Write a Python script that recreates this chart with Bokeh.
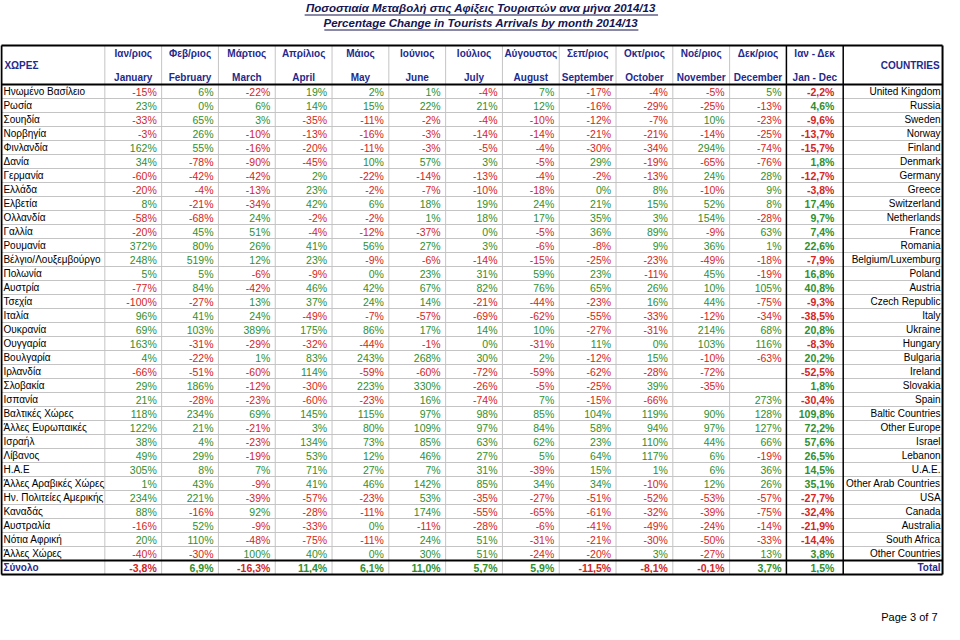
from bokeh.plotting import figure
from bokeh.models import Range1d, ColumnDataSource
from bokeh.embed import file_html
from bokeh.resources import INLINE
from bokeh.core.properties import value

title_gr = "Ποσοστιαία Μεταβολή στις Αφίξεις Τουριστών ανα μήνα 2014/13"
title_en = "Percentage Change in Tourists Arrivals by month 2014/13"
head_gr = "ΧΩΡΕΣ"
head_en = "COUNTRIES"
months_gr = ["Ιαν/ριος", "Φεβ/ριος", "Μάρτιος", "Απρίλιος", "Μάιος", "Ιούνιος", "Ιούλιος",
             "Αύγουστος", "Σεπ/ριος", "Οκτ/ριος", "Νοέ/ριος", "Δεκ/ριος", "Ιαν - Δεκ"]
months_en = ["January", "February", "March", "April", "May", "June", "July", "August",
             "September", "October", "November", "December", "Jan - Dec"]
countries_gr = ["Ηνωμένο Βασίλειο", "Ρωσία", "Σουηδία", "Νορβηγία", "Φινλανδία", "Δανία", "Γερμανία",
                "Ελλάδα", "Ελβετία", "Ολλανδία", "Γαλλία", "Ρουμανία", "Βέλγιο/Λουξεμβούργο", "Πολωνία",
                "Αυστρία", "Τσεχία", "Ιταλία", "Ουκρανία", "Ουγγαρία", "Βουλγαρία", "Ιρλανδία", "Σλοβακία",
                "Ισπανία", "Βαλτικές Χώρες", "Άλλες Ευρωπαικές", "Ισραήλ", "Λίβανος", "Η.Α.Ε",
                "Άλλες Αραβικές Χώρες", "Ην. Πολιτείες Αμερικής", "Καναδάς", "Αυστραλία", "Νότια Αφρική",
                "Άλλες Χώρες"]
countries_en = ["United Kingdom", "Russia", "Sweden", "Norway", "Finland", "Denmark", "Germany", "Greece",
                "Switzerland", "Netherlands", "France", "Romania", "Belgium/Luxemburg", "Poland", "Austria",
                "Czech Republic", "Italy", "Ukraine", "Hungary", "Bulgaria", "Ireland", "Slovakia", "Spain",
                "Baltic Countries", "Other Europe", "Israel", "Lebanon", "U.A.E.", "Other Arab Countries",
                "USA", "Canada", "Australia", "South Africa", "Other Countries"]
total_gr = "Σύνολο"
total_en = "Total"

jan = [-15, 23, -33, -3, 162, 34, -60, -20, 8, -58, -20, 372, 248, 5, -77, -100, 96, 69, 163, 4, -66, 29, 21,
       118, 122, 38, 49, 305, 1, 234, 88, -16, 20, -40]
feb = [6, 0, 65, 26, 55, -78, -42, -4, -21, -68, 45, 80, 519, 5, 84, -27, 41, 103, -31, -22, -51, 186, -28,
       234, 21, 4, 29, 8, 43, 221, -16, 52, 110, -30]
mar = [-22, 6, 3, -10, -16, -90, -42, -13, -34, 24, 51, 26, 12, -6, -42, 13, 24, 389, -29, 1, -60, -12, -23,
       69, -21, -23, -19, 7, -9, -39, 92, -9, -48, 100]
apr = [19, 14, -35, -13, -20, -45, 2, 23, 42, -2, -4, 41, 23, -9, 46, 37, -49, 175, -32, 83, 114, -30, -60,
       145, 3, 134, 53, 71, 41, -57, -28, -33, -75, 40]
may = [2, 15, -11, -16, -11, 10, -22, -2, 6, -2, -12, 56, -9, 0, 42, 24, -7, 86, -44, 243, -59, 223, -23,
       115, 80, 73, 12, 27, 46, -23, -11, 0, -11, 0]
jun = [1, 22, -2, -3, -3, 57, -14, -7, 18, 1, -37, 27, -6, 23, 67, 14, -57, 17, -1, 268, -60, 330, 16,
       97, 109, 85, 46, 7, 142, 53, 174, -11, 24, 30]
jul = [-4, 21, -4, -14, -5, 3, -13, -10, 19, 18, 0, 3, -14, 31, 82, -21, -69, 14, 0, 30, -72, -26, -74,
       98, 97, 63, 27, 31, 85, -35, -55, -28, 51, 51]
aug = [7, 12, -10, -14, -4, -5, -4, -18, 24, 17, -5, -6, -15, 59, 76, -44, -62, 10, -31, 2, -59, -5, 7,
       85, 84, 62, 5, -39, 34, -27, -65, -6, -31, -24]
sep = [-17, -16, -12, -21, -30, 29, -2, 0, 21, 35, 36, -8, -25, 23, 65, -23, -55, -27, 11, -12, -62, -25, -15,
       104, 58, 23, 64, 15, 34, -51, -61, -41, -21, -20]
oct_ = [-4, -29, -7, -21, -34, -19, -13, 8, 15, 3, 89, 9, -23, -11, 26, 16, -33, -31, 0, 15, -28, 39, -66,
        119, 94, 110, 117, 1, -10, -52, -32, -49, -30, 3]
nov = [-5, -25, 10, -14, 294, -65, 24, -10, 52, 154, -9, 36, -49, 45, 10, 44, -12, 214, 103, -10, -72, -35, None,
       90, 97, 44, 6, 6, 12, -53, -39, -24, -50, -27]
dec = [5, -13, -23, -25, -74, -76, 28, 9, 8, -28, 63, 1, -18, -19, 105, -75, -34, 68, 116, -63, None, None, 273,
       128, 127, 66, -19, 36, 26, -57, -75, -14, -33, 13]
year = [-2.2, 4.6, -9.6, -13.7, -15.7, 1.8, -12.7, -3.8, 17.4, 9.7, 7.4, 22.6, -7.9, 16.8, 40.8, -9.3, -38.5,
        20.8, -8.3, 20.2, -52.5, 1.8, -30.4, 109.8, 72.2, 57.6, 26.5, 14.5, 35.1, -27.7, -32.4, -21.9, -14.4, 3.8]
total = [-3.8, 6.9, -16.3, 11.4, 6.1, 11.0, 5.7, 5.9, -11.5, -8.1, -0.1, 3.7, 1.5]
page_label = "Page  3 of 7"

monthly = [jan, feb, mar, apr, may, jun, jul, aug, sep, oct_, nov, dec]

# ---------------- layout constants (reference pixel space) ----------------
FONT = "Liberation Sans"
GREEN = "#2e8f2e"
RED = "#d42424"
BLUE = "#1f2a8c"
NAVY = "#141450"
GRID = "#c4c4c4"
LEFT, RIGHT = 1.0, 957.0
C0 = 106.0
CW = 57.7
TOP = 45.0
HB = 84.0
RH = 14.0
n = len(countries_gr)
TOT_TOP = HB + n * RH
BOT = TOT_TOP + RH
FS_NAME = "10px"
FS_VAL = "10.5px"
FS_HEAD = "10px"

def fmt_int(v):
    return "" if v is None else f"{v}%"

def fmt_dec(v):
    return "" if v is None else (f"{v:.1f}".replace(".", ",") + "%")

def col(v):
    return RED if (v is not None and v < 0) else GREEN

p = figure(width=944, height=624, output_backend="svg", toolbar_location=None,
           x_range=Range1d(0, 959), y_range=Range1d(624, 0),
           min_border=0, outline_line_color=None, background_fill_color="white")
p.axis.visible = False
p.grid.visible = False

# ---------------- grid lines ----------------
hy = [HB + i * RH for i in range(1, n)]
p.segment(x0=[LEFT] * len(hy), x1=[RIGHT] * len(hy), y0=hy, y1=hy, line_color=GRID, line_width=1)

vx_gray = [C0 + k * CW for k in range(0, 12)]
p.segment(x0=vx_gray, x1=vx_gray, y0=[TOP] * len(vx_gray), y1=[BOT] * len(vx_gray), line_color=GRID, line_width=1)
vx_black = [C0 + 12 * CW, C0 + 13 * CW]
p.segment(x0=vx_black, x1=vx_black, y0=[TOP] * 2, y1=[BOT] * 2, line_color="black", line_width=1.5)

p.segment(x0=[LEFT, LEFT], x1=[RIGHT, RIGHT], y0=[HB, TOT_TOP], y1=[HB, TOT_TOP], line_color="black", line_width=1.8)
p.segment(x0=[LEFT, LEFT, LEFT, RIGHT], x1=[RIGHT, RIGHT, LEFT, RIGHT],
          y0=[TOP, BOT, TOP, TOP], y1=[TOP, BOT, BOT, BOT], line_color="black", line_width=2)

# ---------------- titles ----------------
p.text(x=[488, 488], y=[7, 22], text=[title_gr, title_en], text_align="center", text_baseline="middle",
       text_font=value(FONT), text_font_size="11.5px", text_font_style="bold italic", text_color=NAVY)
p.segment(x0=[309, 329], x1=[668, 648], y0=[14.5, 29.5], y1=[14.5, 29.5], line_color=NAVY, line_width=1)

# ---------------- header ----------------
centers = [C0 + (k + 0.5) * CW for k in range(13)]
p.text(x=centers, y=[53] * 13, text=months_gr, text_align="center", text_baseline="middle",
       text_font=value(FONT), text_font_size=FS_HEAD, text_font_style="bold", text_color=BLUE)
p.text(x=centers, y=[77] * 13, text=months_en, text_align="center", text_baseline="middle",
       text_font=value(FONT), text_font_size=FS_HEAD, text_font_style="bold", text_color=BLUE)
p.text(x=[4], y=[65], text=[head_gr], text_align="left", text_baseline="middle",
       text_font=value(FONT), text_font_size=FS_HEAD, text_font_style="bold", text_color=BLUE)
p.text(x=[954], y=[65], text=[head_en], text_align="right", text_baseline="middle",
       text_font=value(FONT), text_font_size=FS_HEAD, text_font_style="bold", text_color=BLUE)

# ---------------- body ----------------
row_y = [HB + (i + 0.5) * RH for i in range(n)]
p.text(x=[3] * n, y=row_y, text=countries_gr, text_align="left", text_baseline="middle",
       text_font=value(FONT), text_font_size=FS_NAME, text_color="black")
p.text(x=[955] * n, y=row_y, text=countries_en, text_align="right", text_baseline="middle",
       text_font=value(FONT), text_font_size=FS_NAME, text_color="black")

xs, ys, ts, cs = [], [], [], []
for k, series in enumerate(monthly):
    xr = C0 + (k + 1) * CW - 5
    for i, v in enumerate(series):
        if v is None:
            continue
        xs.append(xr); ys.append(row_y[i]); ts.append(fmt_int(v)); cs.append(col(v))
src = ColumnDataSource(dict(x=xs, y=ys, t=ts, c=cs))
p.text(x="x", y="y", text="t", text_color="c", source=src, text_align="right", text_baseline="middle",
       text_font=value(FONT), text_font_size=FS_VAL)

xr13 = C0 + 13 * CW - 9
src_y = ColumnDataSource(dict(x=[xr13] * n, y=row_y, t=[fmt_dec(v) for v in year], c=[col(v) for v in year]))
p.text(x="x", y="y", text="t", text_color="c", source=src_y, text_align="right", text_baseline="middle",
       text_font=value(FONT), text_font_size=FS_VAL, text_font_style="bold")

# total row
ty = TOT_TOP + RH / 2
tx = [C0 + (k + 1) * CW - 5 for k in range(12)] + [xr13]
src_t = ColumnDataSource(dict(x=tx, y=[ty] * 13, t=[fmt_dec(v) for v in total], c=[col(v) for v in total]))
p.text(x="x", y="y", text="t", text_color="c", source=src_t, text_align="right", text_baseline="middle",
       text_font=value(FONT), text_font_size=FS_VAL, text_font_style="bold")
p.text(x=[3], y=[ty], text=[total_gr], text_align="left", text_baseline="middle",
       text_font=value(FONT), text_font_size=FS_NAME, text_font_style="bold", text_color=BLUE)
p.text(x=[955], y=[ty], text=[total_en], text_align="right", text_baseline="middle",
       text_font=value(FONT), text_font_size=FS_NAME, text_font_style="bold", text_color=BLUE)

# page footer
p.text(x=[955], y=[616], text=[page_label], text_align="right", text_baseline="middle",
       text_font=value(FONT), text_font_size="11px", text_color="black")

open("out.html", "w").write(file_html(p, INLINE))
